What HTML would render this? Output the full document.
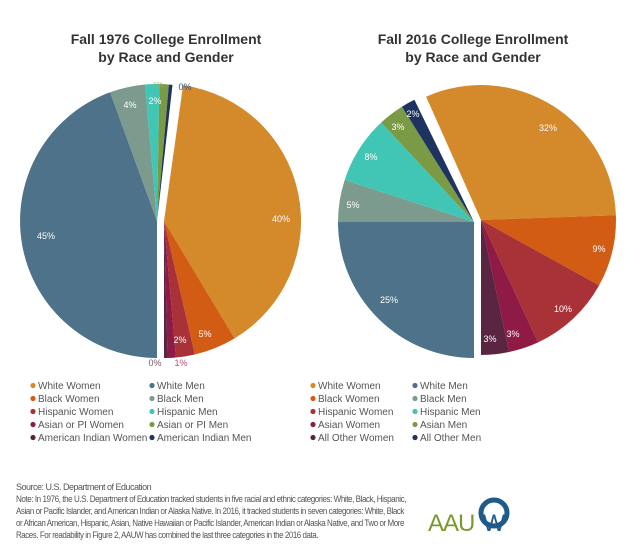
<!DOCTYPE html>
<html><head><meta charset="utf-8"><style>
html,body{margin:0;padding:0;background:#fff;}
body{width:640px;height:550px;overflow:hidden;font-family:"Liberation Sans",sans-serif;}
</style></head><body>
<svg id="s" width="640" height="550" xmlns="http://www.w3.org/2000/svg" font-family="Liberation Sans, sans-serif">
<g font-weight="bold" font-size="14" fill="#333" text-anchor="middle">
<text x="166" y="44">Fall 1976 College Enrollment</text>
<text x="166" y="62">by Race and Gender</text>
<text x="473" y="44">Fall 2016 College Enrollment</text>
<text x="473" y="62">by Race and Gender</text>
</g>
<g id="pies"></g>
<g font-size="9" fill="#fff" text-anchor="middle">
<text x="281" y="222">40%</text><text x="46" y="239">45%</text>
<text x="130" y="108">4%</text><text x="155" y="104">2%</text>
<text x="205" y="337">5%</text><text x="180" y="343">2%</text>
<text x="548" y="131">32%</text><text x="599" y="252">9%</text>
<text x="563" y="312">10%</text><text x="513" y="337">3%</text>
<text x="490" y="342">3%</text><text x="389" y="303">25%</text>
<text x="353" y="208">5%</text><text x="371" y="160">8%</text>
<text x="398" y="130">3%</text><text x="413" y="117">2%</text>
</g>
<g font-size="9" text-anchor="middle">
<text x="155" y="366" fill="#7a5a70">0%</text><text x="181" y="366" fill="#c05070">1%</text>
<text x="185" y="90" fill="#35507a">0%</text><text x="158" y="87" fill="#9ab060" font-size="7">1%</text>
</g>
<g id="leg" font-size="10" fill="#555"></g>
<g font-size="9" fill="#555" font-family="Liberation Sans Narrow, Liberation Sans, sans-serif" letter-spacing="-0.5">
<text x="16" y="490">Source: U.S. Department of Education</text>
<text x="16" y="502" textLength="390" lengthAdjust="spacingAndGlyphs">Note: In 1976, the U.S. Department of Education tracked students in five racial and ethnic categories: White, Black, Hispanic,</text>
<text x="16" y="514" textLength="388" lengthAdjust="spacingAndGlyphs">Asian or Pacific Islander, and American Indian or Alaska Native. In 2016, it tracked students in seven categories: White, Black</text>
<text x="16" y="526" textLength="388" lengthAdjust="spacingAndGlyphs">or African American, Hispanic, Asian, Native Hawaiian or Pacific Islander, American Indian or Alaska Native, and Two or More</text>
<text x="16" y="538" textLength="302" lengthAdjust="spacingAndGlyphs">Races. For readability in Figure 2, AAUW has combined the last three categories in the 2016 data.</text>
</g>
<text x="428" y="531" font-size="24" fill="#7a9a30" letter-spacing="-1">AAU</text>
<circle cx="494" cy="513" r="13" fill="none" stroke="#1e5a8a" stroke-width="5"/>
<text x="494" y="531" font-size="24" fill="#1e5a8a" text-anchor="middle">W</text>
</svg>
<script>
var C={ww:"#d4892a",bw:"#d35c15",hw:"#a83238",aw:"#8e1a45",iw:"#5a2540",wm:"#4d7289",bm:"#7d9a8e",hm:"#41c5b4",am:"#7a9a45",im:"#1e3360"};
function arc(cx,cy,r,a0,a1,col){var f=function(a){a=a*Math.PI/180;return [cx+r*Math.sin(a),cy-r*Math.cos(a)]};
var p=f(a0),q=f(a1),l=(a1-a0)>180?1:0;
return '<path d="M'+cx+' '+cy+' L'+p[0].toFixed(1)+' '+p[1].toFixed(1)+' A'+r+' '+r+' 0 '+l+' 1 '+q[0].toFixed(1)+' '+q[1].toFixed(1)+' Z" fill="'+col+'"/>';}
var h='';
[[8,149,'ww'],[149,167,'bw'],[167,175,'hw'],[175,178.5,'aw'],[178.5,180,'iw']].forEach(function(s){h+=arc(164,221,137,s[0],s[1],C[s[2]])});
[[180,340,'wm'],[340,355,'bm'],[355,361,'hm'],[361,365,'am'],[365,366.5,'im']].forEach(function(s){h+=arc(157,221,137,s[0],s[1],C[s[2]])});
[[-24,88,'ww'],[88,119,'bw'],[119,155,'hw'],[155,168,'aw'],[168,180,'iw']].forEach(function(s){h+=arc(481,220,135,s[0],s[1],C[s[2]])});
[[180,270,'wm'],[270,288,'bm'],[288,317,'hm'],[317,328,'am'],[328,334,'im']].forEach(function(s){h+=arc(474,222,136,s[0],s[1],C[s[2]])});
document.getElementById('pies').innerHTML=h;
var L='';
function leg(x,y,c,t){L+='<circle cx="'+x+'" cy="'+(y-3.5)+'" r="2.6" fill="'+c+'"/><text x="'+(x+5)+'" y="'+y+'">'+t+'</text>';}
var rows=[385,398,411,424,437];
var l1=[['ww','White Women','wm','White Men'],['bw','Black Women','bm','Black Men'],['hw','Hispanic Women','hm','Hispanic Men'],['aw','Asian or PI Women','am','Asian or PI Men'],['iw','American Indian Women','im','American Indian Men']];
var l2=[['ww','White Women','wm','White Men'],['bw','Black Women','bm','Black Men'],['hw','Hispanic Women','hm','Hispanic Men'],['aw','Asian Women','am','Asian Men'],['iw','All Other Women','im','All Other Men']];
l1.forEach(function(r,i){leg(33,rows[i]+4,C[r[0]],r[1]);leg(152,rows[i]+4,C[r[2]],r[3]);});
l2.forEach(function(r,i){leg(313,rows[i]+4,C[r[0]],r[1]);leg(415,rows[i]+4,C[r[2]],r[3]);});
document.getElementById('leg').innerHTML=L;
</script>
</body></html>
